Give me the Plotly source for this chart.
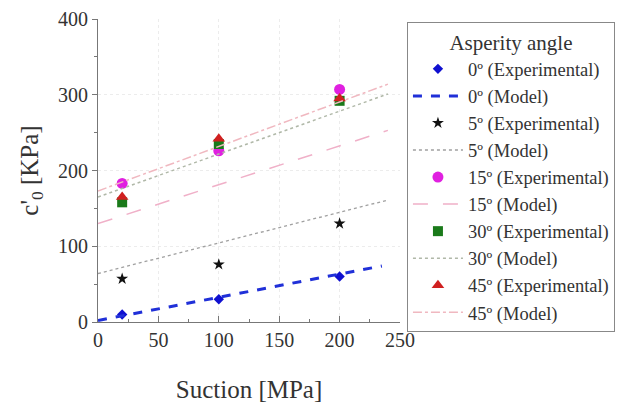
import plotly.graph_objects as go

# Measured cohesion intercept vs. suction for each asperity angle
suction_exp = [20, 100, 200]
c0_exp_0 = [10, 30, 60]
c0_exp_5 = [57, 76, 130]
c0_exp_15 = [183, 226, 307]
c0_exp_30 = [158, 235, 292]
c0_exp_45 = [165, 242, 295]

# Model predictions (linear), evaluated at the ends of the suction range
suction_model_0 = [0, 235]
c0_model_0 = [2, 74]
suction_model = [0, 240]
c0_model_5 = [64, 161]
c0_model_15 = [130, 253]
c0_model_30 = [165, 301]
c0_model_45 = [173, 314]

FONT = "Liberation Serif"

fig = go.Figure()

def exp_trace(y, name, color, symbol, size):
    fig.add_trace(go.Scatter(
        x=suction_exp, y=y, mode="markers", name=name,
        marker=dict(color=color, symbol=symbol, size=size, line=dict(width=0)),
    ))

def model_trace(x, y, name, color, dash, width):
    fig.add_trace(go.Scatter(
        x=x, y=y, mode="lines", name=name,
        line=dict(color=color, dash=dash, width=width),
    ))

exp_trace(c0_exp_0, "0º (Experimental)", "#1010d0", "diamond", 8)
model_trace(suction_model_0, c0_model_0, "0º (Model)", "#2030d8", "dash", 3)
exp_trace(c0_exp_5, "5º (Experimental)", "#111111", "star", 9)
model_trace(suction_model, c0_model_5, "5º (Model)", "#a0a0a0", "dot", 1.3)
exp_trace(c0_exp_15, "15º (Experimental)", "#e020e0", "circle", 11)
model_trace(suction_model, c0_model_15, "15º (Model)", "#f0b0c8", "longdash", 1.5)
exp_trace(c0_exp_30, "30º (Experimental)", "#1a7a1a", "square", 10)
model_trace(suction_model, c0_model_30, "30º (Model)", "#b0b8a8", "dot", 1.5)
exp_trace(c0_exp_45, "45º (Experimental)", "#d02020", "triangle-up", 11)
model_trace(suction_model, c0_model_45, "45º (Model)", "#f0b8c0", "dashdot", 1.5)

fig.update_layout(
    width=633, height=406,
    margin=dict(l=98, r=233, t=19, b=84),
    paper_bgcolor="white", plot_bgcolor="white",
    font=dict(family=FONT, size=20, color="#333333"),
    xaxis=dict(
        range=[0, 250], dtick=50, showline=True, linecolor="#777777", linewidth=1,
        ticks="inside", ticklen=6, tickcolor="#777777",
        minor=dict(ticks="inside", ticklen=3, dtick=25, tickcolor="#777777"),
        showgrid=True, gridcolor="#ececec", griddash="dot", zeroline=False,
        title=dict(text="Suction [MPa]", font=dict(size=25), standoff=30),
        tickfont=dict(size=20), automargin=False,
    ),
    yaxis=dict(
        range=[0, 400], dtick=100, showline=True, linecolor="#777777", linewidth=1,
        ticks="outside", ticklen=5, tickcolor="#777777",
        minor=dict(ticks="outside", ticklen=3, dtick=50, tickcolor="#777777"),
        showgrid=True, gridcolor="#ececec", griddash="dot", zeroline=False,
        title=dict(text="c'<sub>0</sub> [KPa]", font=dict(size=25), standoff=12),
        tickfont=dict(size=20), automargin=False,
    ),
    legend=dict(
        x=1.023, y=0.99, xanchor="left", yanchor="top",
        bordercolor="#888888", borderwidth=1, bgcolor="white",
        font=dict(family=FONT, size=18.5, color="#333333"),
        title=dict(text="Asperity angle", side="top center", font=dict(size=21)),
        itemwidth=50, tracegroupgap=0, maxheight=400,
    ),
    showlegend=True,
)

fig.write_html("out.html")
